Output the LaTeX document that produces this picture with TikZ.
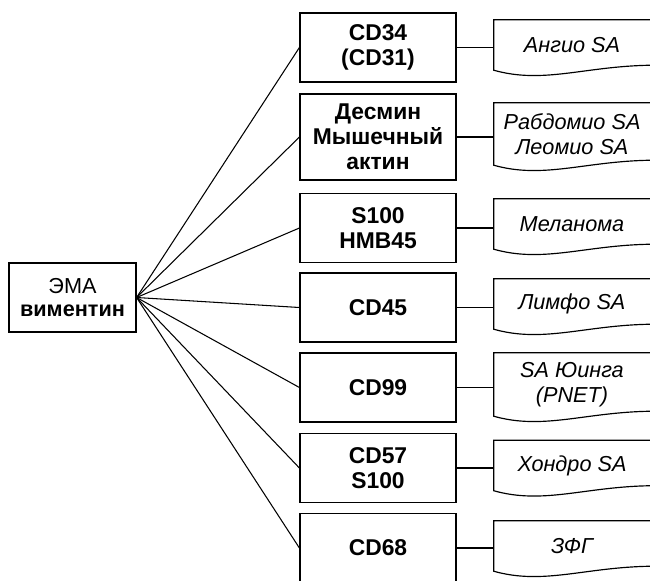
\documentclass[tikz,border=0pt]{standalone}
\usepackage{fontspec}
\setmainfont{Liberation Sans}

\tikzset{
  markerbox/.style={draw, line width=1pt, minimum width=4.68cm, minimum height=2.07cm, align=center, font=\fontsize{19.5}{21.3}\selectfont\bfseries},
  diagbox/.style={minimum width=4.68cm, minimum height=1.5cm, align=center, font=\fontsize{18.5}{21.3}\selectfont\itshape},
}

\begin{document}
\begin{tikzpicture}[x=0.03cm, y=-0.03cm]
            \useasboundingbox (0,0) rectangle (650,580);
            % starting panel
            \node[draw, line width=1pt, minimum width=3.81cm, minimum height=2.07cm, align=center, font=\fontsize{18.5}{19}\selectfont] (ema) at (72.5,297.5){ЭМА\\\textbf{виментин}};
            % markers
            \node[markerbox] (m1) at (378,47.5){CD34\\(CD31)};
            \node[markerbox, minimum height=2.58cm] (m2) at (378,137){Десмин\\Мышечный\\актин};
            \node[markerbox] (m3) at (378,228){S100\\HMB45};
            \node[markerbox] (m4) at (378,307.5){CD45};
            \node[markerbox] (m5) at (378,387.5){CD99};
            \node[markerbox] (m6) at (378,468){CD57\\S100};
            \node[markerbox] (m7) at (378,548){CD68};
            % diagnoses
            \node[diagbox] (d1) at (572,45){Ангио SA};
            \node[diagbox, minimum height=1.86cm] (d2) at (572,134){Рабдомио SA\\Леомио SA};
            \node[diagbox] (d3) at (572,224){Меланома};
            \node[diagbox] (d4) at (572,304){Лимфо SA};
            \node[diagbox, minimum height=1.89cm] (d5) at (572,384.5){SA Юинга\\(PNET)};
            \node[diagbox] (d6) at (572,465.5){Хондро SA};
            \node[diagbox] (d7) at (572,546){ЗФГ};
            \foreach \i in {1,...,7}{
              \draw[line width=0.9pt] (ema.east) -- (m\i.west);
              \draw[line width=1.1pt] (m\i.east) -- (m\i.east -| d\i.west);
              \draw[line width=1pt] (d\i.north east) -- (d\i.north west) -- (d\i.south west)
                .. controls +(50,14) and +(-66,1) .. ([yshift=0.15cm]d\i.south east);
            }
\end{tikzpicture}
\end{document}
